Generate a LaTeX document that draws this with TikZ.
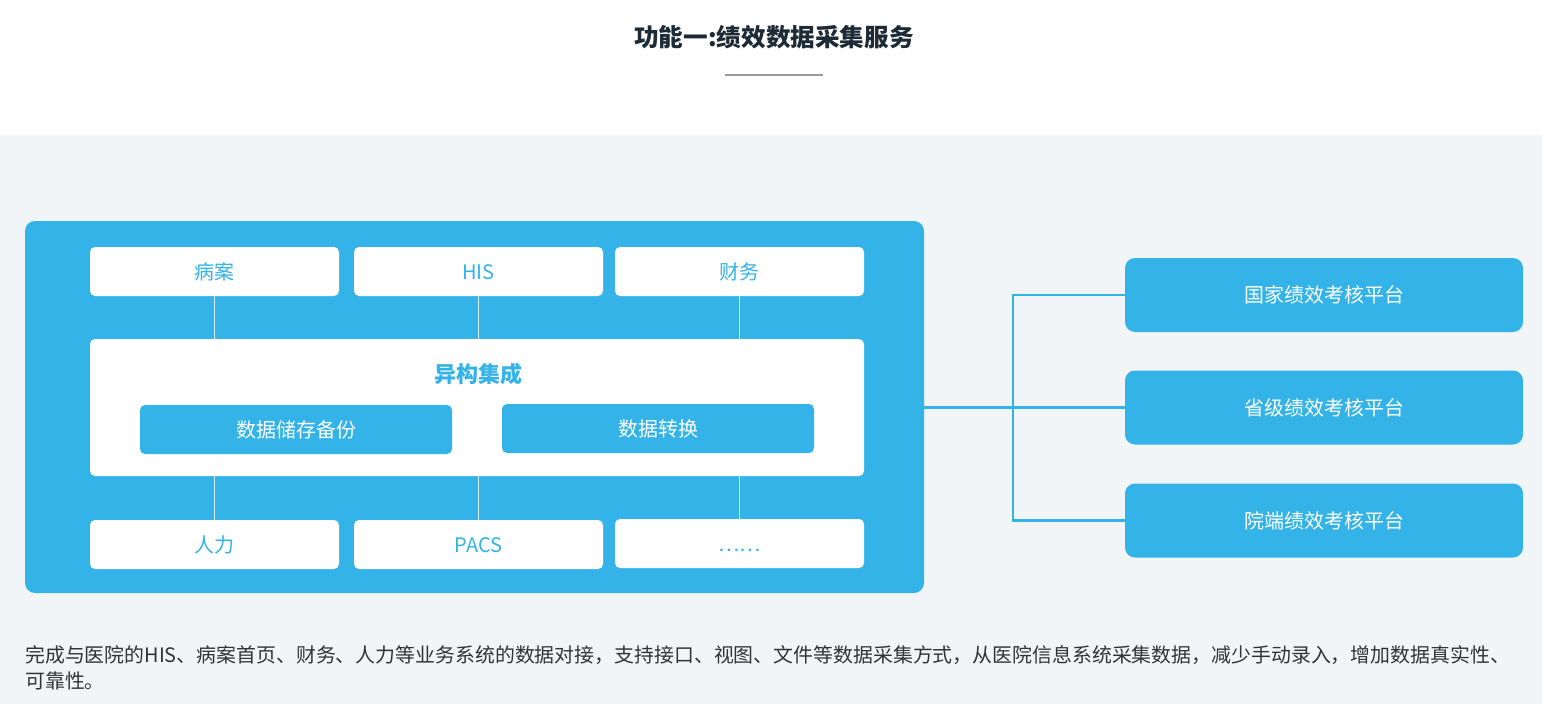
\documentclass[tikz,border=0pt]{standalone}
\usepackage{fontspec}
\setmainfont{Noto Sans CJK SC}
\newfontfamily\cjk{Noto Sans CJK SC}
\definecolor{skyblue}{HTML}{33B3E8}
\definecolor{pagegray}{HTML}{F2F5F8}
\definecolor{titlecol}{HTML}{1C2B36}
\definecolor{bodytext}{HTML}{333333}
\definecolor{rulegray}{HTML}{999999}
\definecolor{thinline}{HTML}{D6EEF9}
\begin{document}
\begin{tikzpicture}[x=1pt,y=-1pt,
  boxfont/.style={font=\cjk\fontsize{20pt}{24pt}\selectfont,text height=17.5pt,text depth=2.5pt},
  whitebox/.style={draw=none,fill=white,rounded corners=5pt,inner sep=0pt,
    minimum width=249pt,minimum height=49pt,text=skyblue,boxfont},
  innerbox/.style={draw=none,fill=skyblue,rounded corners=5pt,inner sep=0pt,
    minimum width=312pt,minimum height=49pt,text=white,boxfont},
  platbox/.style={draw=none,fill=skyblue,rounded corners=10pt,inner sep=0pt,
    minimum width=398pt,minimum height=74pt,text=white,boxfont},
  linkline/.style={draw=thinline,line width=1pt},
  platline/.style={draw=skyblue,line width=2.2pt},
  bodyline/.style={anchor=base west,inner sep=0pt,text=bodytext,font=\cjk\fontsize{19.9pt}{24pt}\selectfont}
]
\useasboundingbox (0,0) rectangle (1542,704);
\fill[white] (0,0) rectangle (1542,704);
\fill[pagegray] (0,135) rectangle (1542,704);

\node[font=\cjk\bfseries\fontsize{24.6pt}{28pt}\selectfont,text=titlecol,inner sep=0pt] (title) at (774,37.5) {功能一:绩效数据采集服务};
\coordinate (ruleL) at (725,75);
\coordinate (ruleR) at (823,75);
\draw[rulegray,line width=2pt] (ruleL) -- (ruleR);

% big container
\node[fill=skyblue,rounded corners=10pt,inner sep=0pt,minimum width=899pt,minimum height=372pt] (big) at (474.5,407) {};

% top row
\node[whitebox] (t1) at (214.5,271.5) {病案};
\node[whitebox] (t2) at (478.5,271.5) {HIS};
\node[whitebox] (t3) at (739.5,271.5) {财务};

% middle
\node[fill=white,rounded corners=5pt,inner sep=0pt,minimum width=774pt,minimum height=137pt] (mid) at (477,407.5) {};
\node[text=skyblue,font=\cjk\bfseries\fontsize{22pt}{26pt}\selectfont,inner sep=0pt] (midtitle) at (478,374) {异构集成};
\node[innerbox] (m1) at (296,429.5) {数据储存备份};
\node[innerbox] (m2) at (658,428.5) {数据转换};

% bottom row
\node[whitebox] (b1) at (214.5,544.5) {人力};
\node[whitebox] (b2) at (478.5,544.5) {PACS};
\node[whitebox] (b3) at (739.5,543.5) {……};

\foreach \n in {t1,t2,t3}{\draw[linkline] (\n.south) -- (\n.south |- mid.north);}
\foreach \n in {b1,b2,b3}{\draw[linkline] (\n.north) -- (\n.north |- mid.south);}

% platforms
\node[platbox] (p1) at (1324,295) {国家绩效考核平台};
\node[platbox] (p2) at (1324,407.5) {省级绩效考核平台};
\node[platbox] (p3) at (1324,520.5) {院端绩效考核平台};

\coordinate (jtop) at (1013,295);
\coordinate (jbot) at (1013,520.5);
\draw[platline] (big.east |- p2.west) -- (p2.west);
\draw[platline] (p1.west) -- (jtop) -- (jbot) -- (p3.west);

% description
\node[bodyline] (desc1) at (25,662) {完成与医院的HIS、病案首页、财务、人力等业务系统的数据对接，支持接口、视图、文件等数据采集方式，从医院信息系统采集数据，减少手动录入，增加数据真实性、};
\node[bodyline] (desc2) at (25,688) {可靠性。};
\end{tikzpicture}
\end{document}
